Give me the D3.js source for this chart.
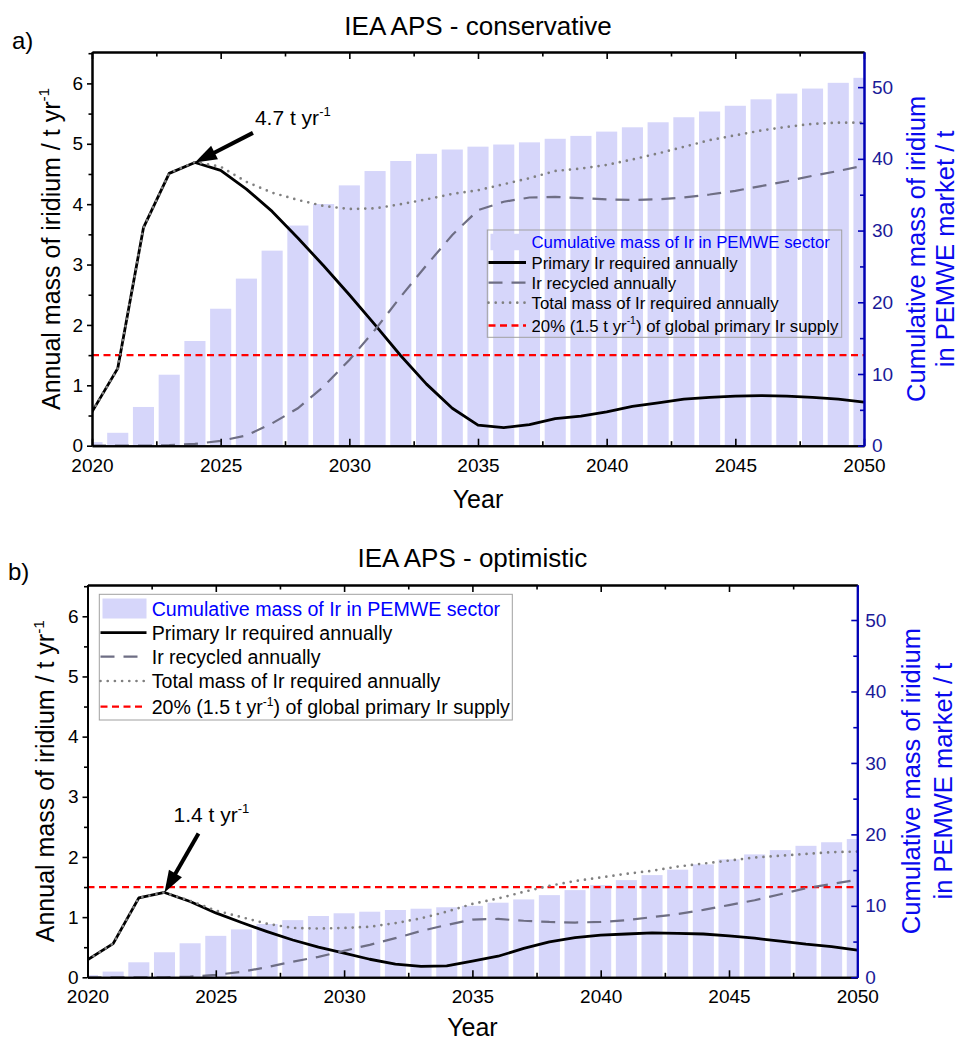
<!DOCTYPE html>
<html><head><meta charset="utf-8">
<script src="https://cdn.jsdelivr.net/npm/d3@7"></script>
<style>
html,body{margin:0;padding:0;background:#fff;}
svg{display:block;}
</style></head>
<body>
<svg id="chart" width="960" height="1042"></svg>
<script>
// ---------------- DATA ----------------
const years = d3.range(2020, 2051);
const xTickYears = [2020, 2025, 2030, 2035, 2040, 2045, 2050];
const leftTicks = [0, 1, 2, 3, 4, 5, 6];
const rightTicks = [0, 10, 20, 30, 40, 50];
const supplyLimit = 1.5;

// Panel a) IEA APS - conservative
const cumulativeA = [0.5, 1.8, 5.4, 9.9, 14.6, 19.1, 23.3, 27.2, 30.7, 33.7, 36.3, 38.3, 39.7, 40.7, 41.3, 41.7,
  42.0, 42.3, 42.8, 43.2, 43.8, 44.4, 45.1, 45.8, 46.6, 47.4, 48.3, 49.1, 49.8, 50.6, 51.3];
const primaryA = [0.56, 1.28, 3.61, 4.51, 4.69, 4.56, 4.25, 3.88, 3.44, 2.98, 2.50, 2.00, 1.49, 1.02, 0.62, 0.34,
  0.30, 0.35, 0.45, 0.49, 0.56, 0.65, 0.71, 0.77, 0.80, 0.82, 0.83, 0.82, 0.80, 0.77, 0.72];
const recycledA = [0, 0, 0, 0.01, 0.03, 0.08, 0.17, 0.37, 0.62, 0.98, 1.42, 1.92, 2.47, 2.99, 3.49, 3.9,
  4.04, 4.11, 4.12, 4.10, 4.08, 4.07, 4.08, 4.11, 4.16, 4.22, 4.30, 4.38, 4.47, 4.55, 4.64];
const totalA = [0.56, 1.28, 3.61, 4.51, 4.70, 4.62, 4.37, 4.19, 4.07, 3.97, 3.92, 3.93, 4.0, 4.08, 4.17, 4.23,
  4.33, 4.43, 4.55, 4.59, 4.65, 4.74, 4.84, 4.95, 5.06, 5.14, 5.22, 5.28, 5.33, 5.35, 5.35];

// Panel b) IEA APS - optimistic
const cumulativeB = [0.3, 0.8, 2.1, 3.5, 4.76, 5.8, 6.7, 7.46, 8.0, 8.58, 8.96, 9.18, 9.42, 9.6, 9.8, 10.0,
  10.44, 10.9, 11.5, 12.2, 12.9, 13.6, 14.3, 15.06, 15.8, 16.5, 17.2, 17.8, 18.4, 18.9, 19.35];
const primaryB = [0.29, 0.56, 1.32, 1.41, 1.26, 1.07, 0.91, 0.76, 0.62, 0.50, 0.40, 0.30, 0.22, 0.18, 0.19, 0.27,
  0.35, 0.48, 0.59, 0.66, 0.70, 0.72, 0.74, 0.73, 0.72, 0.69, 0.65, 0.60, 0.55, 0.51, 0.45];
const recycledB = [0, 0, 0, 0, 0.01, 0.04, 0.09, 0.17, 0.26, 0.34, 0.44, 0.54, 0.65, 0.77, 0.87, 0.96,
  0.97, 0.94, 0.92, 0.91, 0.92, 0.95, 1.0, 1.05, 1.12, 1.20, 1.28, 1.38, 1.48, 1.55, 1.62];
const totalB = [0.29, 0.56, 1.32, 1.41, 1.27, 1.11, 1.0, 0.89, 0.82, 0.81, 0.82, 0.84, 0.90, 0.98, 1.09, 1.22,
  1.31, 1.42, 1.52, 1.60, 1.66, 1.72, 1.77, 1.84, 1.89, 1.94, 1.99, 2.02, 2.05, 2.08, 2.09];

const legendLabels = [
  [["Cumulative mass of Ir in PEMWE sector"]],
  [["Primary Ir required annually"]],
  [["Ir recycled annually"]],
  [["Total mass of Ir required annually"]],
  [["20% (1.5 t yr"], ["-1", true], [") of global primary Ir supply"]]
];
const leftTitle = [["Annual mass of iridium / t yr"], ["-1", true]];
const rightTitle = ["Cumulative mass of iridium", "in PEMWE market / t"];

// ---------------- STYLE ----------------
const FONT = "'Liberation Sans', Arial, Helvetica, sans-serif";
const BAR = "#d6d6fa";
const BLUE_AXIS = "#0000b4";
const BLUE_TICK = "#1a1a98";
const BLUE_TITLE = "#0a0aee";
const GRAY_DASH = "#6e6e84";
const GRAY_DOT = "#808080";

const svg = d3.select("#chart").style("font-family", FONT);

function richText(sel, parts, fs) {
  let shifted = false;
  parts.forEach(p => {
    const t = sel.append("tspan").text(p[0]);
    if (p[1]) {
      t.attr("font-size", fs * 0.62).attr("dy", -fs * 0.42);
      shifted = true;
    } else if (shifted) {
      t.attr("dy", fs * 0.42);
      shifted = false;
    }
  });
}

function drawPanel(cfg, idx) {
  const g = svg.append("g");
  const x = d3.scaleLinear().domain([2020, 2050]).range([cfg.x0, cfg.x1]);
  const y = d3.scaleLinear().domain([0, 6.52]).range([cfg.yB, cfg.yT]);
  const yR = d3.scaleLinear().domain([0, 54.9]).range([cfg.yB, cfg.yT]);

  const clipId = "clip" + idx;
  g.append("clipPath").attr("id", clipId).append("rect")
    .attr("x", cfg.x0).attr("y", cfg.yT).attr("width", cfg.x1 - cfg.x0).attr("height", cfg.yB - cfg.yT);

  const plot = g.append("g").attr("clip-path", `url(#${clipId})`);
  const bw = (x(2021) - x(2020)) * 0.82;
  plot.selectAll("rect.bar").data(years).join("rect").attr("class", "bar")
    .attr("x", d => x(d) - bw / 2).attr("width", bw)
    .attr("y", (d, i) => yR(cfg.bars[i])).attr("height", (d, i) => yR(0) - yR(cfg.bars[i]))
    .attr("fill", BAR);

  // red limit line
  plot.append("line").attr("x1", cfg.x0).attr("x2", cfg.x1)
    .attr("y1", y(supplyLimit)).attr("y2", y(supplyLimit))
    .attr("stroke", "#ff0000").attr("stroke-width", 2.3).attr("stroke-dasharray", "7,4.5");

  const line = d3.line().x((d, i) => x(years[i])).y(d => y(d));
  plot.append("path").datum(cfg.primary).attr("d", line).attr("fill", "none")
    .attr("stroke", "#000").attr("stroke-width", 2.8).attr("stroke-linejoin", "round");
  plot.append("path").datum(cfg.recycled).attr("d", line).attr("fill", "none")
    .attr("stroke", GRAY_DASH).attr("stroke-width", 2.2).attr("stroke-dasharray", "14,9");
  plot.append("path").datum(cfg.total).attr("d", line).attr("fill", "none")
    .attr("stroke", GRAY_DOT).attr("stroke-width", 2.7).attr("stroke-linecap", "round")
    .attr("stroke-dasharray", "0,7.2");

  // axes
  const styleAxis = (sel, color, fs) => {
    sel.selectAll("path.domain").attr("stroke", color).attr("stroke-width", 2);
    sel.selectAll(".tick line").attr("stroke", color).attr("stroke-width", 1.6);
    sel.selectAll(".tick text").attr("fill", color === BLUE_AXIS ? BLUE_TICK : "#000")
      .attr("font-size", fs).attr("font-family", FONT);
  };
  const minorX = d3.range(2022.5, 2050, 5);
  const gb = g.append("g").attr("transform", `translate(0,${cfg.yB})`)
    .call(d3.axisBottom(x).tickValues(xTickYears).tickFormat(d3.format("d"))
      .tickSizeInner(-7).tickSizeOuter(0).tickPadding(12.5));
  styleAxis(gb, "#000", 19);
  const gbm = g.append("g").attr("transform", `translate(0,${cfg.yB})`)
    .call(d3.axisBottom(x).tickValues(minorX).tickFormat("").tickSizeInner(-4.5).tickSizeOuter(0));
  styleAxis(gbm, "#000", 19);
  const gt = g.append("g").attr("transform", `translate(0,${cfg.yT})`)
    .call(d3.axisTop(x).tickValues(xTickYears).tickFormat("").tickSizeInner(-7).tickSizeOuter(0));
  styleAxis(gt, "#000", 19);
  const gtm = g.append("g").attr("transform", `translate(0,${cfg.yT})`)
    .call(d3.axisTop(x).tickValues(minorX).tickFormat("").tickSizeInner(-4.5).tickSizeOuter(0));
  styleAxis(gtm, "#000", 19);

  const gl = g.append("g").attr("transform", `translate(${cfg.x0},0)`)
    .call(d3.axisLeft(y).tickValues(leftTicks).tickFormat(d3.format("d"))
      .tickSizeInner(5).tickSizeOuter(0).tickPadding(4));
  styleAxis(gl, "#000", 19);
  const glm = g.append("g").attr("transform", `translate(${cfg.x0},0)`)
    .call(d3.axisLeft(y).tickValues(d3.range(0.5, 6.52, 1)).tickFormat("").tickSizeInner(3.5).tickSizeOuter(0));
  styleAxis(glm, "#000", 19);

  const gr = g.append("g").attr("transform", `translate(${cfg.x1},0)`)
    .call(d3.axisRight(yR).tickValues(rightTicks).tickFormat(d3.format("d"))
      .tickSizeInner(-6).tickSizeOuter(0).tickPadding(8));
  styleAxis(gr, BLUE_AXIS, 19);
  const grm = g.append("g").attr("transform", `translate(${cfg.x1},0)`)
    .call(d3.axisRight(yR).tickValues(d3.range(5, 54.9, 10)).tickFormat("").tickSizeInner(-4).tickSizeOuter(0));
  styleAxis(grm, BLUE_AXIS, 19);
  gr.select("path.domain").raise();

  // titles
  g.append("text").attr("x", (cfg.x0 + cfg.x1) / 2).attr("y", cfg.titleY)
    .attr("text-anchor", "middle").attr("font-size", 26).text(cfg.title);
  g.append("text").attr("x", cfg.letterX).attr("y", cfg.letterY)
    .attr("font-size", 24).text(cfg.letter);
  g.append("text").attr("x", (cfg.x0 + cfg.x1) / 2).attr("y", cfg.yB + cfg.yearDy)
    .attr("text-anchor", "middle").attr("font-size", 25).text("Year");
  const lt = g.append("text")
    .attr("transform", `translate(${cfg.leftTitleX},${(cfg.yT + cfg.yB) / 2}) rotate(-90)`)
    .attr("text-anchor", "middle").attr("font-size", 25);
  richText(lt, leftTitle, 25);
  rightTitle.forEach((s, i) => {
    g.append("text")
      .attr("transform", `translate(${cfg.rightTitleX[i]},${(cfg.yT + cfg.yB) / 2}) rotate(-90)`)
      .attr("text-anchor", "middle").attr("font-size", 25.5).attr("fill", BLUE_TITLE).text(s);
  });

  // legend
  const L = cfg.legend;
  g.append("rect").attr("x", L.x).attr("y", L.y).attr("width", L.w).attr("height", L.h)
    .attr("fill", "none").attr("stroke", "#a0a0a0").attr("stroke-width", 1);
  L.rows.forEach((ry, i) => {
    const cy = ry;
    if (i === 0) {
      g.append("rect").attr("x", L.sx0 + 2).attr("y", cy - L.sh / 2).attr("width", L.sx1 - L.sx0 - 2)
        .attr("height", L.sh).attr("fill", BAR);
    } else {
      const ln = g.append("line").attr("x1", L.sx0).attr("x2", L.sx1).attr("y1", cy).attr("y2", cy);
      if (i === 1) ln.attr("stroke", "#000").attr("stroke-width", 2.8);
      if (i === 2) ln.attr("stroke", GRAY_DASH).attr("stroke-width", 2.2).attr("stroke-dasharray", "14,9");
      if (i === 3) ln.attr("stroke", GRAY_DOT).attr("stroke-width", 2.7).attr("stroke-linecap", "round").attr("stroke-dasharray", "0,7.2");
      if (i === 4) ln.attr("stroke", "#ff0000").attr("stroke-width", 2.3).attr("stroke-dasharray", "7,4.5");
    }
    const t = g.append("text").attr("x", L.tx).attr("y", cy + L.fs * 0.36)
      .attr("font-size", L.fs).attr("fill", i === 0 ? "#0000ff" : "#000");
    richText(t, legendLabels[i], L.fs);
  });

  // annotation arrow
  const A = cfg.annot;
  const tip = [x(A.year), y(A.value)];
  const tail = [tip[0] + A.dx, tip[1] + A.dy];
  const len = Math.hypot(A.dx, A.dy);
  const ux = -A.dx / len, uy = -A.dy / len;
  const hl = 22, hw = 7.5;
  const base = [tip[0] - ux * hl, tip[1] - uy * hl];
  g.append("line").attr("x1", tail[0]).attr("y1", tail[1]).attr("x2", base[0] + ux * 2).attr("y2", base[1] + uy * 2)
    .attr("stroke", "#000").attr("stroke-width", 4);
  g.append("polygon").attr("points", [
    tip, [base[0] - uy * hw, base[1] + ux * hw], [base[0] + uy * hw, base[1] - ux * hw]
  ].map(p => p.join(",")).join(" ")).attr("fill", "#000");
  const at = g.append("text").attr("x", tip[0] + A.tx).attr("y", tip[1] + A.ty).attr("font-size", 21);
  richText(at, [[A.label], ["-1", true]], 21);
}

drawPanel({
  x0: 92, x1: 864, yT: 52, yB: 445.7,
  title: "IEA APS - conservative", titleY: 35,
  letter: "a)", letterX: 12, letterY: 49,
  yearDy: 62, leftTitleX: 59.5, rightTitleX: [924.5, 954],
  bars: cumulativeA, primary: primaryA, recycled: recycledA, total: totalA,
  legend: { x: 487.3, y: 230, w: 354.4, h: 107.3, sx0: 488.5, sx1: 526, tx: 531.5, fs: 16.8,
    sh: 16.5, rows: [242, 262.5, 282.7, 302.7, 325.5] },
  annot: { year: 2024, value: 4.69, dx: 58, dy: -29.6, tx: 60, ty: -38, label: "4.7 t yr" }
}, 0);

drawPanel({
  x0: 87.5, x1: 857.3, yT: 585, yB: 977.3,
  title: "IEA APS - optimistic", titleY: 567,
  letter: "b)", letterX: 8, letterY: 580,
  yearDy: 58.5, leftTitleX: 54, rightTitleX: [920, 952],
  bars: cumulativeB, primary: primaryB, recycled: recycledB, total: totalB,
  legend: { x: 99.3, y: 594.3, w: 413, h: 125.7, sx0: 100.5, sx1: 146.5, tx: 151.7, fs: 19.6,
    sh: 20, rows: [608.5, 632.7, 656.7, 681, 706.7] },
  annot: { year: 2023, value: 1.41, dx: 34, dy: -59, tx: 9, ty: -70.7, label: "1.4 t yr" }
}, 1);
</script>
</body></html>
